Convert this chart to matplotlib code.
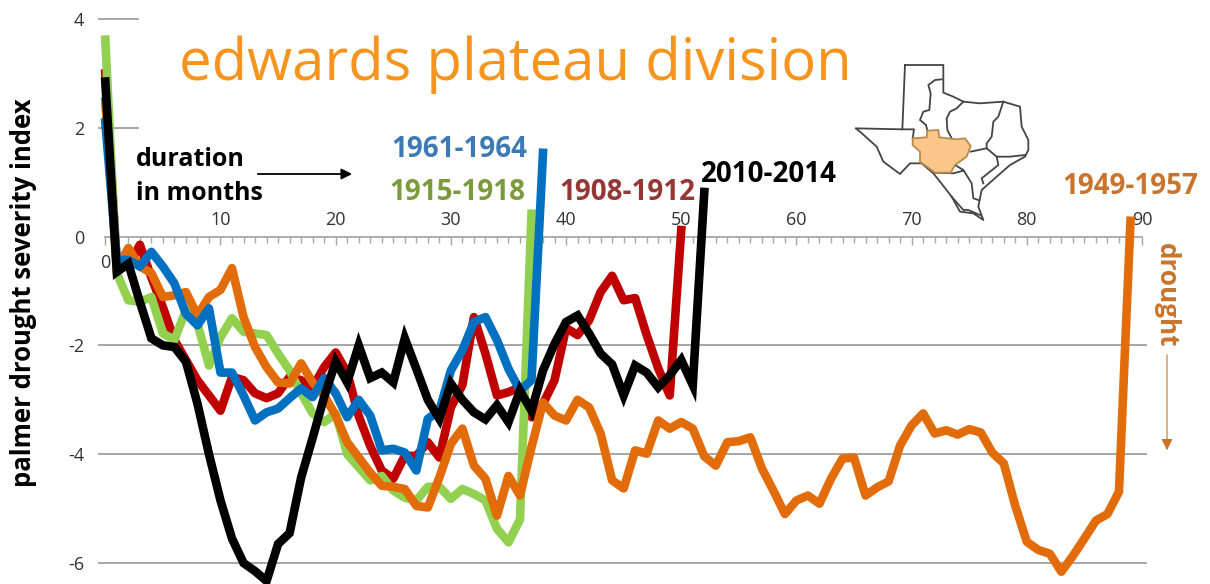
#!/usr/bin/python3

import matplotlib
matplotlib.use("Agg")
import matplotlib.pyplot as plt
from matplotlib.patches import Polygon

plt.rcParams['font.family'] = ['Open Sans', 'DejaVu Sans']

W, H = 1210, 584

# PDSI by month of the drought
black_2010 = [2.85, -0.65, -0.5, -1.2, -1.87, -2.0, -2.03, -2.3, -3.07, -4.0, -4.85, -5.55, -6.0, -6.15, -6.33,
              -5.65, -5.45, -4.43, -3.7, -2.95, -2.3, -2.68, -2.0, -2.6, -2.5, -2.68, -1.87, -2.43, -3.0, -3.35,
              -2.7, -3.0, -3.23, -3.36, -3.1, -3.41, -2.83, -3.2, -2.46, -1.97, -1.57, -1.45, -1.78, -2.15, -2.35,
              -2.92, -2.37, -2.5, -2.77, -2.55, -2.27, -2.73, 0.82]
red_1908 = [3.0, -0.5, -0.55, -0.15, -0.75, -1.3, -1.9, -2.27, -2.64, -2.92, -3.2, -2.58, -2.64, -2.88, -2.97,
            -2.88, -2.58, -2.64, -2.77, -2.4, -2.13, -2.5, -3.3, -3.85, -4.3, -4.45, -4.03, -4.03, -3.78, -4.06,
            -3.14, -2.73, -1.48, -2.15, -2.92, -2.86, -2.77, -3.32, -3.07, -2.64, -1.68, -1.81, -1.54, -1.02, -0.72,
            -1.17, -1.13, -1.81, -2.42, -2.92, 0.12]
green_1915 = [3.62, -0.67, -1.17, -1.2, -1.11, -1.78, -1.9, -1.35, -1.6, -2.37, -1.85, -1.5, -1.75, -1.78, -1.81,
              -2.15, -2.46, -2.88, -3.25, -3.41, -3.25, -4.0, -4.24, -4.48, -4.4, -4.67, -4.8, -4.85, -4.6, -4.6,
              -4.82, -4.64, -4.73, -4.85, -5.37, -5.62, -5.2, 0.42]
blue_1961 = [2.1, -0.43, -0.43, -0.55, -0.28, -0.55, -0.86, -1.42, -1.63, -1.32, -2.5, -2.5, -2.92, -3.38, -3.23,
             -3.16, -2.97, -2.79, -2.95, -2.6, -2.88, -3.32, -3.0, -3.29, -3.93, -3.9, -3.97, -4.3, -3.35, -3.2,
             -2.46, -2.09, -1.57, -1.48, -1.9, -2.43, -2.83, -2.64, 1.54]
orange_1949 = [2.48, -0.6, -0.21, -0.55, -0.67, -1.11, -1.08, -1.02, -1.45, -1.11, -0.98, -0.58, -1.48, -2.03, -2.4,
               -2.68, -2.7, -2.33, -2.68, -2.92, -3.29, -3.78, -4.06, -4.34, -4.58, -4.6, -4.64, -4.95, -4.98, -4.43,
               -3.81, -3.53, -4.21, -4.45, -5.13, -4.4, -4.76, -3.87, -3.05, -3.29, -3.38, -3.0, -3.14, -3.62, -4.48,
               -4.63, -3.93, -3.99, -3.38, -3.53, -3.41, -3.53, -4.04, -4.21, -3.78, -3.76, -3.69, -4.26, -4.67, -5.1,
               -4.85, -4.76, -4.91, -4.45, -4.08, -4.06, -4.76, -4.61, -4.5, -3.84, -3.47, -3.25, -3.62, -3.56, -3.64,
               -3.54, -3.6, -3.97, -4.17, -4.95, -5.61, -5.76, -5.83, -6.16, -5.87, -5.55, -5.22, -5.1, -4.69, 0.29]

y_ticks = [4, 2, 0, -2, -4, -6]
x_tick_labels = list(range(0, 91, 10))

# Texas map outlines, traced in crop coordinates
texas_x = [195, 310, 310, 340, 370, 420, 490, 540, 545, 565, 565, 555, 510, 470, 425, 415, 430, 400, 360, 335, 300,
           280, 245, 210, 180, 130, 110, 60, 47, 187, 195]
texas_y = [45, 45, 128, 140, 155, 160, 155, 170, 230, 270, 300, 320, 345, 380, 420, 470, 510, 490, 485, 440, 395,
           370, 340, 340, 372, 335, 290, 245, 235, 238, 45]
edwards_x = [218, 260, 262, 295, 298, 350, 375, 392, 380, 345, 332, 285, 240, 240, 218]
edwards_y = [265, 262, 242, 240, 262, 268, 265, 288, 320, 345, 368, 368, 335, 305, 285]
dividers = [
    ([187, 222, 218], [238, 238, 265]),
    ([305, 285, 265, 272, 268, 250, 240, 258, 262], [88, 90, 105, 130, 180, 185, 210, 225, 242]),
    ([335, 322, 320, 330, 350, 370], [265, 240, 205, 185, 175, 155]),
    ([490, 475, 460, 455, 440, 440, 392], [155, 200, 215, 260, 280, 295, 305]),
    ([440, 470, 510, 555], [295, 320, 320, 315]),
    ([470, 475, 425, 430], [320, 345, 385, 400]),
    ([345, 370, 395, 400, 415], [345, 360, 400, 445, 450]),
    ([285, 340, 370], [368, 370, 362]),
    ([335, 370, 385, 420], [440, 480, 480, 495]),
]

fig = plt.figure(figsize=(W / 100, H / 100), dpi=100)

# axes pinned so month 0 = 105.3 px, month 90 = 1142 px, PDSI 4 = 19 px, PDSI 0 = 236.7 px
ax_bottom = (4 - (H - 19) / 54.4)
ax = fig.add_axes([105.3 / W, 0, (1142 - 105.3) / W, (H - 19) / H])
ax.set_xlim(0, 90)
ax.set_ylim(ax_bottom, 4)
ax.patch.set_visible(False)

for s in ['top', 'right', 'left']:
    ax.spines[s].set_visible(False)
ax.spines['bottom'].set_position(('data', 0))
ax.spines['bottom'].set_color('#a6a6a6')
ax.spines['bottom'].set_linewidth(1.3)

ax.set_xticks(x_tick_labels)
ax.set_xticks(range(0, 91), minor=True)
ax.tick_params(axis='x', which='major', length=6, width=1, color='#a6a6a6', labelbottom=False)
ax.tick_params(axis='x', which='minor', length=4, width=1, color='#a6a6a6')
ax.set_yticks(y_ticks)
ax.set_yticklabels([str(v) for v in y_ticks])
ax.tick_params(axis='y', length=0, pad=15, labelsize=13, labelcolor='#333333')

ax.hlines([-2, -4, -6], -0.6, 90.4, color='#a6a6a6', lw=1.4, clip_on=False, zorder=1)
ax.hlines([2, 4], -0.6, 2.9, color='#a6a6a6', lw=1.4, clip_on=False, zorder=1)

for v in x_tick_labels:
    if v == 0:
        ax.annotate('0', (v, 0), xytext=(0, -19), textcoords='offset points', ha='center', va='center',
                    fontsize=13, color='#333333')
    else:
        ax.annotate(str(v), (v, 0), xytext=(0, 12), textcoords='offset points', ha='center', va='center',
                    fontsize=13, color='#333333')

ax.plot(range(len(red_1908)), red_1908, color='#c00000', lw=6.2, clip_on=False, zorder=3)
ax.plot(range(len(green_1915)), green_1915, color='#92d050', lw=6.2, clip_on=False, zorder=3)
ax.plot(range(len(orange_1949)), orange_1949, color='#e36c0a', lw=6.2, clip_on=False, zorder=4)
ax.plot(range(len(blue_1961)), blue_1961, color='#0070c0', lw=6.2, clip_on=False, zorder=5)
ax.plot(range(len(black_2010)), black_2010, color='black', lw=6.2, clip_on=False, zorder=6,
        solid_joinstyle='miter')


def px(x, y):
    return x / W, 1 - y / H


fig.text(*px(515, 65), 'edwards plateau division', fontsize=41.8, color='#f7941e', ha='center', va='center')
fig.text(*px(24, 293), 'palmer drought severity index', fontsize=18.5, fontweight='bold', rotation=90,
         ha='center', va='center', color='black')
fig.text(*px(136, 160), 'duration', fontsize=18, fontweight='bold', ha='left', va='center')
fig.text(*px(136, 194), 'in months', fontsize=18, fontweight='bold', ha='left', va='center')
fig.text(*px(459, 149), '1961-1964', fontsize=20, fontweight='bold', color='#3d7ab5', ha='center', va='center')
fig.text(*px(457, 193), '1915-1918', fontsize=20, fontweight='bold', color='#7a9a3c', ha='center', va='center')
fig.text(*px(627, 192), '1908-1912', fontsize=20, fontweight='bold', color='#953735', ha='center', va='center')
fig.text(*px(769, 174), '2010-2014', fontsize=20, fontweight='bold', color='black', ha='center', va='center')
fig.text(*px(1130, 187), '1949-1957', fontsize=20, fontweight='bold', color='#c8742c', ha='center', va='center')
fig.text(*px(1166, 295), 'drought', fontsize=18.8, fontweight='bold', color='#c8742c', rotation=270,
         ha='center', va='center')

overlay = fig.add_axes([0, 0, 1, 1])
overlay.set_xlim(0, W)
overlay.set_ylim(H, 0)
overlay.axis('off')
overlay.annotate('', xy=(355, 174), xytext=(255, 174),
                 arrowprops=dict(arrowstyle='-|>', color='black', lw=1.3, mutation_scale=16))
overlay.annotate('', xy=(1167, 453), xytext=(1167, 352),
                 arrowprops=dict(arrowstyle='-|>', color='#c8742c', lw=0.8, mutation_scale=17))

# map, crop coordinates: 3 units per pixel, crop origin at (840, 50)
m = fig.add_axes([840 / W, 1 - 230 / H, 200 / W, 180 / H])
m.set_xlim(0, 600)
m.set_ylim(540, 0)
m.axis('off')
m.add_patch(Polygon(list(zip(edwards_x, edwards_y)), closed=True, facecolor='#fac68a', edgecolor='#b98a4e', lw=1.3,
                    zorder=3))
m.plot(texas_x, texas_y, color='#444444', lw=1.3, zorder=2)
for dx, dy in dividers:
    m.plot(dx, dy, color='#444444', lw=1.3, zorder=2)

fig.savefig('out.png', dpi=100)
